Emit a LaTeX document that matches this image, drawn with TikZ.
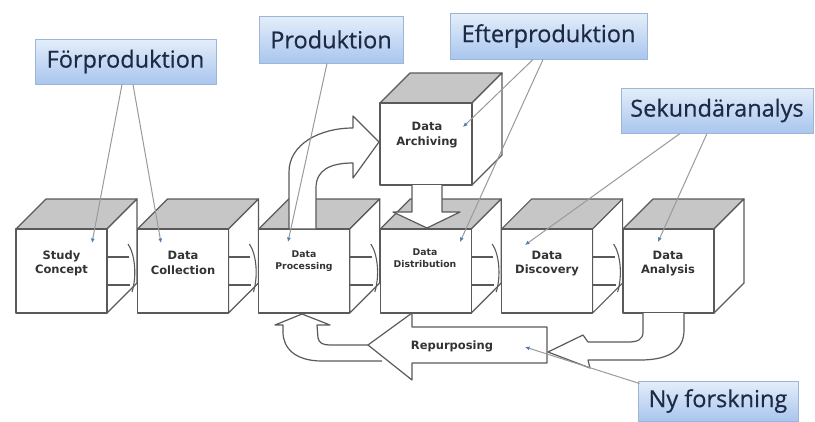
\documentclass[tikz,border=0pt]{standalone}
\usepackage{fontspec}
\setmainfont{Open Sans}
\newfontfamily\lblfont[FakeBold=0.5]{Open Sans}
\newfontfamily\cubefont{DejaVu Sans}
\usetikzlibrary{arrows.meta}

\definecolor{edge}{HTML}{5A5A5A}
\definecolor{topgray}{HTML}{C6C6C6}
\definecolor{lbltop}{HTML}{E4EEFA}
\definecolor{lblbot}{HTML}{A9C6EE}
\definecolor{lbledge}{HTML}{9DB5D6}
\definecolor{lbltext}{HTML}{1E2A45}
\definecolor{conncol}{HTML}{9A9A9A}
\definecolor{dotcol}{HTML}{4C7DB8}
\definecolor{cubetext}{HTML}{333333}

\tikzset{
 face/.style={draw=edge, line width=1.2pt, line join=round},
 frontface/.style={face, fill=white, rectangle, inner sep=0pt, outer sep=0pt},
 ctext/.style={font=\cubefont\bfseries\fontsize{11.5}{14.5}\selectfont, text=cubetext, align=center, inner sep=0pt},
 csmall/.style={font=\cubefont\bfseries\fontsize{9.3}{12}\selectfont, text=cubetext, align=center, inner sep=0pt},
 lbl/.style={rectangle, draw=lbledge, line width=1pt, top color=lbltop, bottom color=lblbot, text=lbltext, font=\lblfont\fontsize{23.5}{27}\selectfont, inner sep=0pt},
 conn/.style={draw=conncol, line width=1pt, -{Latex[length=4.5pt,width=4pt,color=dotcol]}},
 blockarrow/.style={face, fill=white},
}

% #1 name, #2 x, #3 y top, #4 w, #5 h
\newcommand{\mycube}[5]{%
 \draw[face, fill=topgray] (#2,#3) -- ++(30,-30) -- ++(#4,0) -- ++(-30,30) -- cycle;
 \draw[face, fill=white] (#2+#4,#3) -- ++(30,-30) -- ++(0,#5) -- ++(-30,30) -- cycle;
 \node[frontface, minimum width=#4, minimum height=#5, anchor=north west] (#1) at (#2,#3) {};
}
% inter-cube arrow on right face, #1 = x of front right edge
\newcommand{\linkarrow}[1]{%
 \draw[face, line width=1.1pt] (#1,257) -- ++(22,0);
 \draw[face, line width=1.1pt] (#1,285) -- ++(23,0);
 \draw[face, line width=1.1pt] (#1+21,244) .. controls (#1+28,254) and (#1+30,276) .. (#1+25,292);
}

\begin{document}
\begin{tikzpicture}[x=1pt,y=-1pt]
\useasboundingbox[fill=white] (0,0) rectangle (815,421);

% main row of cubes
\mycube{sc}{16}{229}{91}{84}
\mycube{dc}{137.4}{229}{91}{84}
\mycube{dp}{258.8}{229}{91}{84}
\mycube{dd}{380.2}{229}{91}{84}
\mycube{dv}{501.6}{229}{91}{84}
\mycube{da}{623}{229}{91}{84}

\linkarrow{107}
\linkarrow{228.4}
\linkarrow{349.8}
\linkarrow{471.2}
\linkarrow{592.6}

% processing -> archiving arrow
\draw[blockarrow] (289,229) -- (289,172) .. controls (289,144) and (320,128) .. (353,128)
  -- (353,116) -- (379,142) -- (353,178) -- (353,163)
  .. controls (330,163) and (316,170) .. (316,188) -- (316,229) -- cycle;

% archiving cube
\mycube{ar}{380}{103}{92}{82}

% archiving -> distribution arrow
\draw[blockarrow] (412,185) -- (412,212) -- (393,212) -- (427,228) -- (460,212) -- (442,212) -- (442,185);

% repurposing -> processing U arrow
\draw[blockarrow] (382,361) -- (322,361) .. controls (295,361) and (283,348) .. (283,332) -- (283,325)
  -- (275,325) -- (302,314) -- (330,325) -- (317,325) -- (318,338)
  .. controls (319,343) and (323,345) .. (330,345) -- (372,345);

% repurposing arrow
\draw[blockarrow] (547,327) -- (412,327) -- (412,313) -- (368,345) -- (412,380) -- (412,363) -- (547,363) -- cycle;

% analysis -> repurposing arrow
\draw[blockarrow] (643,313) -- (643,332) .. controls (643,340) and (637,342) .. (628,342) -- (588,342)
  -- (583,335) -- (548,352) -- (590,368) -- (588,360) -- (640,360)
  .. controls (672,360) and (684,348) .. (684,330) -- (684,313);

% cube texts
\node[ctext] (sct) at (61.5,263.5) {Study\\Concept};
\node[ctext] (dct) at (183,263) {Data\\Collection};
\node[csmall] (dpt) at (304,261) {Data\\Processing};
\node[csmall] (ddt) at (425,258) {Data\\Distribution};
\node[ctext] (dvt) at (547,263.5) {Data\\Discovery};
\node[ctext] (dat) at (668,263.5) {Data\\Analysis};
\node[ctext] (art) at (427,135) {Data\\Archiving};
\node[ctext] (rpt) at (452,346) {Repurposing};

% label boxes
\node[lbl, minimum width=181, minimum height=45] (fp) at (125.5,61.5) {Förproduktion};
\node[lbl, minimum width=144, minimum height=47] (pr) at (331,39.5) {Produktion};
\node[lbl, minimum width=197, minimum height=46] (ep) at (548.5,36) {Efterproduktion};
\node[lbl, minimum width=192, minimum height=45] (sk) at (717,110.5) {Sekundäranalys};
\node[lbl, minimum width=160, minimum height=40] (ny) at (718,401) {Ny forskning};

% connector targets
\coordinate (tsc) at (92,243);
\coordinate (tdc) at (161,243);
\coordinate (tdp) at (288,242);
\coordinate (tar) at (463,127);
\coordinate (tdd) at (460,242);
\coordinate (tdv) at (525,245);
\coordinate (tda) at (658,242);
\coordinate (trp) at (525,347);

\draw[conn] ([xshift=-3.5pt]fp.south) -- (tsc);
\draw[conn] ([xshift=7.5pt]fp.south) -- (tdc);
\draw[conn] ([xshift=-4pt]pr.south) -- (tdp);
\draw[conn] ([xshift=-15.5pt]ep.south) -- (tar);
\draw[conn] ([xshift=-5.5pt]ep.south) -- (tdd);
\draw[conn] ([xshift=-37pt]sk.south) -- (tdv);
\draw[conn] ([xshift=-10pt]sk.south) -- (tda);
\draw[conn] ([xshift=2pt,yshift=-3pt]ny.north west) -- (trp);
\end{tikzpicture}
\end{document}
